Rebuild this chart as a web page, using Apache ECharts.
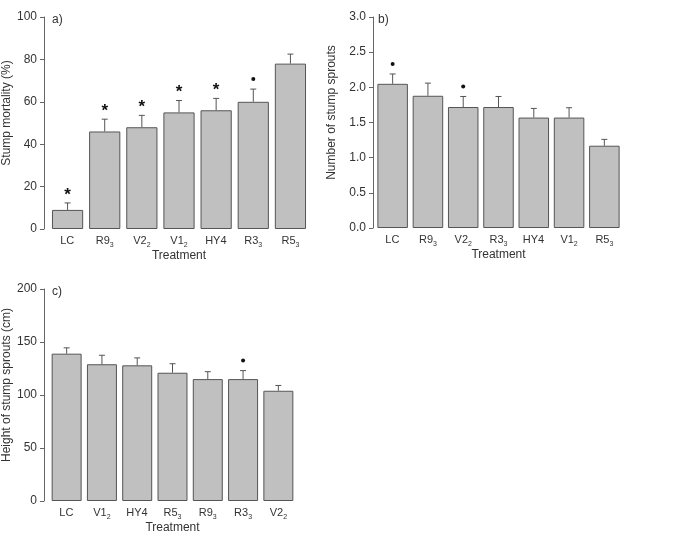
<!DOCTYPE html>
<html>
<head>
<meta charset="utf-8">
<script src="https://cdn.jsdelivr.net/npm/echarts@6/dist/echarts.min.js"></script>
<style>
  html, body { margin: 0; padding: 0; background: #fff; }
  #main { width: 678px; height: 536px; }
</style>
</head>
<body>
<div id="main"></div>
<script>
// a) stump mortality
var mortalityCats = ['LC', 'R9_3', 'V2_2', 'V1_2', 'HY4', 'R3_3', 'R5_3'];
var mortality = [9, 46, 48, 55, 56, 60, 78];
var mortalityErr = [12.3, 51.8, 53.6, 60.6, 61.6, 66, 82.5];
var mortalityMark = ['*', '*', '*', '*', '*', '•', ''];

// b) number of stump sprouts
var sproutCats = ['LC', 'R9_3', 'V2_2', 'R3_3', 'HY4', 'V1_2', 'R5_3'];
var sprouts = [2.05, 1.88, 1.72, 1.72, 1.57, 1.57, 1.17];
var sproutsErr = [2.19, 2.06, 1.87, 1.87, 1.70, 1.71, 1.26];
var sproutsMark = ['•', '', '•', '', '', '', ''];

// c) height of stump sprouts
var heightCats = ['LC', 'V1_2', 'HY4', 'R5_3', 'R9_3', 'R3_3', 'V2_2'];
var heights = [139, 129, 128, 121, 115, 115, 104];
var heightsErr = [144.5, 137.5, 135, 129.5, 122, 123, 109];
var heightsMark = ['', '', '', '', '', '•', ''];

var txt = '#333';
var axisCol = '#666';
var font = 'Liberation Sans, Arial, sans-serif';

var myChart = echarts.init(document.getElementById('main'));

// "R9_3" -> R9 with subscript 3 (a hair space keeps plain labels on the same baseline)
function catLabel(v) {
    var p = v.split('_');
    return p[0] + '{s|' + (p.length > 1 ? p[1] : '\u200a') + '}';
}

function xAxisOf(idx, cats) {
    return {
        type: 'category',
        gridIndex: idx,
        data: cats,
        name: 'Treatment',
        nameLocation: 'middle',
        nameGap: 20,
        nameTextStyle: { color: txt, fontSize: 12, fontFamily: font },
        axisLine: { show: false },
        axisTick: { show: false },
        axisLabel: {
            interval: 0,
            color: txt, fontSize: 11, fontFamily: font, margin: 4,
            formatter: catLabel,
            rich: { s: { fontSize: 7, color: txt, fontFamily: font, padding: [9, 0, 0, 0] } }
        }
    };
}

function yAxisOf(idx, name, max, interval, offset, gap, fmt) {
    return {
        type: 'value',
        gridIndex: idx,
        min: 0,
        max: max,
        interval: interval,
        offset: offset,
        name: name,
        nameLocation: 'middle',
        nameGap: gap,
        nameTextStyle: { color: txt, fontSize: 12, fontFamily: font, padding: [0, 0, 0, 20] },
        axisLine: { show: true, lineStyle: { color: axisCol, width: 1 } },
        axisTick: { show: true, length: 4, lineStyle: { color: axisCol } },
        splitLine: { show: false },
        axisLabel: { color: txt, fontSize: 12, fontFamily: font, margin: 7, formatter: fmt }
    };
}

function barSeries(idx, data, gap) {
    return {
        type: 'bar',
        xAxisIndex: idx,
        yAxisIndex: idx,
        data: data,
        barCategoryGap: gap,
        silent: true,
        itemStyle: { color: '#c0c0c0', borderColor: '#555', borderWidth: 1 }
    };
}

function errSeries(idx, vals, errs, marks) {
    var data = vals.map(function (v, i) { return [i, v, errs[i]]; });
    return {
        type: 'custom',
        xAxisIndex: idx,
        yAxisIndex: idx,
        silent: true,
        data: data,
        renderItem: function (params, api) {
            var base = api.coord([api.value(0), api.value(1)]);
            var top = api.coord([api.value(0), api.value(2)]);
            var st = { stroke: '#555', lineWidth: 1 };
            var children = [
                { type: 'line', shape: { x1: base[0], y1: base[1], x2: top[0], y2: top[1] }, style: st },
                { type: 'line', shape: { x1: top[0] - 3, y1: top[1], x2: top[0] + 3, y2: top[1] }, style: st }
            ];
            var m = marks[params.dataIndex];
            if (m === '*') {
                children.push({ type: 'text', x: top[0], y: top[1] - 8,
                    style: { text: '*', fill: '#111', font: 'bold 17px ' + font, align: 'center', verticalAlign: 'middle' } });
            } else if (m === '•') {
                children.push({ type: 'circle', shape: { cx: top[0], cy: top[1] - 10, r: 2 }, style: { fill: '#111' } });
            }
            return { type: 'group', children: children };
        }
    };
}

option = {
    animation: false,
    grid: [
        { left: 49, top: 17, width: 260, height: 212 },
        { left: 375, top: 17, width: 247, height: 211 },
        { left: 49, top: 289, width: 247, height: 212 }
    ],
    xAxis: [
        xAxisOf(0, mortalityCats),
        xAxisOf(1, sproutCats),
        xAxisOf(2, heightCats)
    ],
    yAxis: [
        yAxisOf(0, 'Stump mortality (%)', 100, 20, 5, 23),
        yAxisOf(1, 'Number of stump sprouts', 3, 0.5, 2, 35, function (v) { return v.toFixed(1); }),
        yAxisOf(2, 'Height of stump sprouts (cm)', 200, 50, 5, 23)
    ],
    graphic: [
        { type: 'text', left: 52, top: 14, style: { text: 'a)', fill: txt, font: '12px ' + font } },
        { type: 'text', left: 378, top: 14, style: { text: 'b)', fill: txt, font: '12px ' + font } },
        { type: 'text', left: 52, top: 286, style: { text: 'c)', fill: txt, font: '12px ' + font } }
    ],
    series: [
        barSeries(0, mortality, '16%'),
        errSeries(0, mortality, mortalityErr, mortalityMark),
        barSeries(1, sprouts, '13.5%'),
        errSeries(1, sprouts, sproutsErr, sproutsMark),
        barSeries(2, heights, '15%'),
        errSeries(2, heights, heightsErr, heightsMark)
    ]
};
myChart.setOption(option);
</script>
</body>
</html>
